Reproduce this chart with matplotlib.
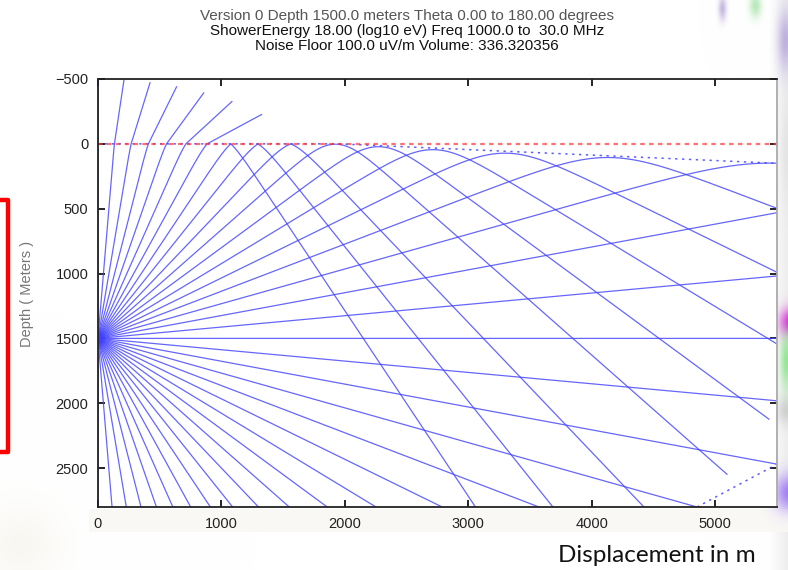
import numpy as np
import matplotlib
matplotlib.use("Agg")
import matplotlib.pyplot as plt
from matplotlib.lines import Line2D

# ---- ray fan parameters ----
theta_deg = list(range(0, 181, 5))        # launch angles, degrees from the upward vertical
source_depth = 1500.0                      # m
n_deep = 1.78                              # deep-ice refractive index
n_delta = 0.43                             # firn index deficit at the surface
n_decay = 0.0132                           # 1/m
max_path = 6540.0                          # m of ray path traced
max_air_path = 500.0                       # m of ray path drawn above the surface

x_ticks = [0, 1000, 2000, 3000, 4000, 5000]
y_ticks = [-500, 0, 500, 1000, 1500, 2000, 2500]
x_range = (0, 5500)
y_range = (2800, -500)

# dotted guide lines
envelope_x = [0, 1950, 5500]
envelope_z = [0, 0, 150]
endline_x = [4852, 5500]
endline_z = [2800, 2470]

title_lines = [
    "Version 0 Depth 1500.0 meters Theta 0.00 to 180.00 degrees",
    "ShowerEnergy 18.00 (log10 eV) Freq 1000.0 to  30.0 MHz",
    "Noise Floor 100.0 uV/m Volume: 336.320356",
]


def n_of(z):
    return n_deep - n_delta * np.exp(-n_decay * max(z, 0.0))


def dn_dz(z):
    return n_delta * n_decay * np.exp(-n_decay * max(z, 0.0))


def trace(theta, ds=1.0):
    """Ray equation d(n dr/ds)/ds = grad n, with depth increasing downward."""
    t = np.radians(theta)
    x, z = 0.0, source_depth
    n = n_of(z)
    p = n * np.sin(t)                  # horizontal slowness, conserved
    kz = -n * np.cos(t)
    xs, zs = [x], [z]
    s = 0.0
    while s < max_path:
        n = n_of(z)
        x_new = x + p / n * ds
        z_new = z + kz / n * ds
        if z_new <= 0.0 and kz < 0:
            f = z / (z - z_new)
            xc = x + f * (x_new - x)
            if p < 1.0:
                # leaves the ice: straight path in air
                xs.append(xc); zs.append(0.0)
                ca = np.sqrt(1.0 - p * p)
                xs.append(xc + p * max_air_path)
                zs.append(-ca * max_air_path)
                break
            # total internal reflection at the surface
            xs.append(xc); zs.append(0.0)
            z_new = -z_new
            kz = -kz
        x, z = x_new, z_new
        kz += dn_dz(z) * ds
        xs.append(x); zs.append(z)
        s += ds
        if x > x_range[1] or z > y_range[0]:
            break
    return np.array(xs), np.array(zs)


W, H = 788, 570
fig = plt.figure(figsize=(W / 100, H / 100), dpi=100)

# slide backdrop around the chart
yy, xx = np.mgrid[0:H, 0:W].astype(float)
bg = np.ones((H, W, 3))
fade = np.clip((xx - 768) / 20.0, 0, 1)[..., None]
bg = bg * (1 - 0.07 * fade)
band = ((yy > 508) & (yy < 532) & (xx > 88))[..., None]
bg = np.where(band, np.array([0.98, 0.975, 0.96]), bg)


def blob(cx, cy, sx, sy, color, strength):
    global bg
    g = strength * np.exp(-(((xx - cx) / sx) ** 2 + ((yy - cy) / sy) ** 2))[..., None]
    bg = bg * (1 - g) + np.array(color) * g


blob(20, 545, 40, 40, (0.95, 0.94, 0.90), 0.5)
blob(792, 322, 12, 14, (0.85, 0.05, 0.85), 1.0)
blob(786, 360, 6, 28, (0.55, 0.9, 0.55), 0.9)
blob(786, 410, 10, 14, (0.6, 0.6, 0.6), 0.35)
blob(790, 492, 16, 18, (0.6, 0.45, 0.95), 0.9)
blob(786, 150, 6, 50, (0.8, 0.8, 0.8), 0.3)
blob(785, 40, 8, 30, (0.55, 0.45, 0.8), 0.5)
blob(755, 5, 6, 12, (0.55, 0.85, 0.55), 0.6)
blob(722, 8, 4, 12, (0.55, 0.45, 0.75), 0.5)
bg_ax = fig.add_axes([0, 0, 1, 1], zorder=-10)
bg_ax.imshow(np.clip(bg, 0, 1), extent=[0, W, H, 0], aspect="auto", interpolation="bilinear")
bg_ax.set_xlim(0, W); bg_ax.set_ylim(H, 0)
bg_ax.axis("off")

left, right, top, bottom = 98, 777, 79, 507
ax = fig.add_axes([left / W, 1 - bottom / H, (right - left) / W, (bottom - top) / H])
ax.set_facecolor("white")

ray_color = (0.25, 0.25, 1.0)
for th in theta_deg:
    xs, zs = trace(th)
    ax.plot(xs, zs, color=ray_color, lw=0.9, alpha=0.8, solid_capstyle="butt")

ax.plot(envelope_x, envelope_z, color=ray_color, lw=1.1, ls=(0, (1.5, 3)), alpha=0.85)
ax.plot(endline_x, endline_z, color=ray_color, lw=1.1, ls=(0, (1.5, 3)), alpha=0.85)
ax.plot([x_range[0], x_range[1]], [0, 0], color=(1.0, 0.2, 0.2), lw=1.6,
        ls=(0, (2, 2)), alpha=0.7)

ax.set_xlim(*x_range)
ax.set_ylim(*y_range)
ax.set_xticks(x_ticks)
ax.set_yticks(y_ticks)
ax.tick_params(direction="in", length=5, width=1.2, top=True, right=True,
               labelsize=10.5, labelcolor="#222222", pad=7)
for side in ["left", "bottom", "top"]:
    ax.spines[side].set_linewidth(1.3)
    ax.spines[side].set_color("#222222")
ax.spines["right"].set_color("#aaaaaa")
ax.spines["right"].set_linewidth(1.3)
for lab in ax.get_xticklabels() + ax.get_yticklabels():
    lab.set_fontfamily("Liberation Sans")

cx = 407 / W
for i, (txt, col) in enumerate(zip(title_lines, ["#555555", "#111111", "#111111"])):
    fig.text(cx, 1 - (16 + 15 * i) / H, txt, ha="center", va="center",
             fontsize=11, color=col, family="Liberation Sans")

fig.text(27 / W, 1 - 294 / H, "Depth ( Meters )", rotation=90, ha="center", va="center",
         fontsize=10.5, color="#777777", family="Liberation Sans")

fig.text(558 / W, 1 - 562 / H, "Displacement in m", ha="left", va="baseline",
         fontsize=17.5, color="#111111", family="Lato")

# red bracket at the left margin
bx = [0, 8, 8, 0]
by = [200, 200, 452, 452]
fig.add_artist(Line2D([v / W for v in bx], [1 - v / H for v in by], color="red",
                      lw=3.2, solid_joinstyle="round", transform=fig.transFigure))

fig.savefig("out.png", dpi=100)
